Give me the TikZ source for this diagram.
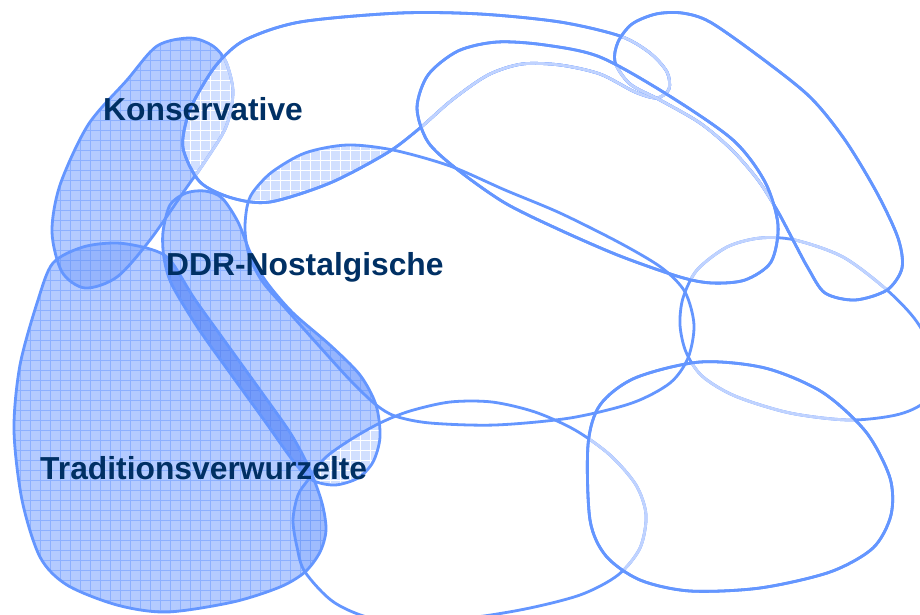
\documentclass[tikz,border=0pt]{standalone}
\usepackage{fontspec}
\setmainfont{Liberation Sans}
\begin{document}
\begin{tikzpicture}[x=1pt,y=-1pt]
% colours
\definecolor{edgeblue}{RGB}{100,150,255}
\definecolor{faintblue}{RGB}{192,211,255}
\definecolor{fillblue}{RGB}{180,203,255}
\definecolor{gridblue}{RGB}{140,176,255}
\definecolor{bandblue}{RGB}{116,156,250}
\definecolor{bandgrid}{RGB}{100,142,245}
\definecolor{midblue}{RGB}{150,181,253}
\definecolor{midgrid}{RGB}{122,162,250}
\definecolor{paleblue}{RGB}{210,224,255}
\definecolor{labelnavy}{RGB}{0,48,100}
\tikzset{
  milieu/.style={draw=edgeblue, line width=2.8pt, line join=round},
  faintline/.style={draw=faintblue, line width=2.8pt, line join=round},
  milieulabel/.style={font=\fontsize{31.8}{36}\selectfont\bfseries, text=labelnavy,
    anchor=base west, inner sep=0pt},
}
% hatched grid filling the current clip region
\newcommand\gridfill[2]{%
  \fill[#1] (-10,-10) rectangle (930,624);
  \foreach \g in {0,10,...,930} {\draw[#2, line width=0.75pt] (\g,-10) -- (\g,624);}
  \foreach \g in {0,10,...,624} {\draw[#2, line width=0.75pt] (-10,\g) -- (930,\g);}
}
% milieu outlines
\def\mKons{plot[smooth cycle] coordinates {(127,80) (157,46) (190,38) (213,46) (226,62) (233,92) (226,127) (204,163) (187,187) (150,240) (117,277) (85,288) (62,272) (52,232) (60,185) (88,125)}}
\def\mTrad{plot[smooth cycle] coordinates {(53,263) (83,247) (117,243) (150,249) (170,260) (194,298) (224,340) (260,390) (291,434) (310,470) (322,503) (326,530) (320,552) (305,572) (280,587) (233,602) (167,612) (117,605) (67,585) (40,557) (22,500) (14,430) (20,365) (38,300)}}
\def\mDDR{plot[smooth cycle] coordinates {(163,232) (170,205) (186,193) (205,191) (222,198) (238,222) (250,252) (265,280) (292,312) (330,345) (360,375) (376,405) (380,437) (373,462) (358,478) (335,485) (312,480) (294,462) (264,420) (230,373) (198,328) (172,285) (164,258)}}
\def\mEtab{plot[smooth cycle] coordinates {(183,148) (188,115) (200,90) (218,63) (245,40) (300,22) (400,13) (480,14) (560,22) (620,36) (650,53) (667,72) (669,89) (657,98) (635,92) (600,74) (560,65) (522,64) (488,75) (452,100) (420,128) (387,153) (330,183) (270,202) (232,198) (200,182)}}
\def\mPerf{plot[smooth cycle] coordinates {(615,62) (618,42) (632,24) (656,14) (682,13) (710,22) (760,57) (810,97) (845,140) (877,193) (898,238) (902,268) (887,290) (855,300) (825,293) (808,268) (793,240) (777,210) (758,180) (732,150) (700,123) (660,100) (630,84)}}
\def\mPost{plot[smooth cycle] coordinates {(417,108) (428,75) (458,51) (497,42) (545,45) (600,57) (668,95) (733,140) (765,182) (778,225) (771,262) (745,280) (712,283) (680,277) (620,256) (560,230) (505,203) (458,170) (428,142)}}
\def\mMitte{plot[smooth cycle] coordinates {(247,207) (253,192) (272,172) (305,153) (347,145) (393,150) (450,166) (505,190) (560,213) (620,243) (662,268) (685,292) (694,325) (688,358) (670,383) (632,403) (570,418) (495,425) (430,423) (395,416) (375,404) (350,380) (320,347) (287,310) (262,281) (249,255) (245,230)}}
\def\mKonsum{plot[smooth cycle] coordinates {(308,480) (325,458) (350,440) (380,423) (410,411) (450,402) (492,402) (535,412) (575,430) (610,455) (636,485) (646,515) (640,548) (618,575) (580,595) (520,610) (450,620) (380,620) (335,603) (305,572) (297,547) (293,520) (298,495)}}
\def\mHed{plot[smooth cycle] coordinates {(588,445) (600,405) (635,378) (700,362) (765,368) (822,392) (866,432) (890,478) (891,515) (873,548) (830,572) (760,588) (690,591) (640,580) (606,556) (590,520)}}
\def\mExp{plot[smooth cycle] coordinates {(680,325) (683,298) (697,270) (727,247) (760,238) (795,240) (843,257) (887,290) (917,322) (935,360) (928,398) (900,414) (850,420) (790,413) (735,396) (702,376) (686,352)}}

\useasboundingbox (0,0) rectangle (920,614);
\fill[white] (0,0) rectangle (920,614);
\clip (0,0) rectangle (920,614);

% highlighted milieus
\begin{scope}\clip \mKons; \gridfill{fillblue}{gridblue}\end{scope}
\begin{scope}\clip \mTrad; \gridfill{fillblue}{gridblue}\end{scope}
\begin{scope}\clip \mDDR; \gridfill{fillblue}{gridblue}\end{scope}
% overlaps among highlighted milieus
\begin{scope}\clip \mKons; \clip \mTrad; \gridfill{midblue}{midgrid}\end{scope}
\begin{scope}\clip \mTrad; \clip \mDDR; \gridfill{bandblue}{bandgrid}\end{scope}
\begin{scope}\clip \mDDR; \clip \mMitte; \gridfill{midblue}{midgrid}\end{scope}
\begin{scope}\clip \mTrad; \clip \mKonsum; \gridfill{midblue!70!fillblue}{midgrid}\end{scope}
% pale overlaps
\begin{scope}\clip \mKons; \clip \mEtab; \gridfill{paleblue}{white}\end{scope}
\begin{scope}\clip \mEtab; \clip \mMitte; \gridfill{paleblue}{white}\end{scope}
\begin{scope}\clip \mDDR; \clip \mKonsum; \gridfill{paleblue}{white}\end{scope}

% outlines
\foreach \m in {\mKons,\mTrad,\mDDR,\mEtab,\mPerf,\mPost,\mKonsum,\mHed,\mExp}{\path[milieu] \m;}

% outlines seen through the milieus lying above them
\begin{scope}\clip \mEtab; \path[faintline] \mKons;\end{scope}
\path[milieu] \mEtab;
\begin{scope}\clip \mPerf; \path[faintline] \mExp;\end{scope}
\begin{scope}\clip \mPost; \path[faintline] \mExp;\end{scope}
\begin{scope}\clip \mHed; \path[faintline] \mExp;\end{scope}
\begin{scope}\clip \mHed; \path[faintline] \mKonsum;\end{scope}
\begin{scope}\clip \mPerf; \path[faintline] \mEtab;\end{scope}
\begin{scope}\clip \mPost; \path[faintline] \mEtab;\end{scope}
\path[milieu] \mPerf;
\begin{scope}\clip \mPost; \path[faintline] \mPerf;\end{scope}
\path[milieu] \mPost;
\path[milieu] \mHed;
\path[milieu] \mMitte;

% labels
\node[milieulabel] (konservative) at (103,120) {Konservative};
\node[milieulabel] (nostalgische) at (166,275) {DDR-Nostalgische};
\node[milieulabel] (traditionsverwurzelte) at (40,479) {Traditionsverwurzelte};
\end{tikzpicture}
\end{document}
